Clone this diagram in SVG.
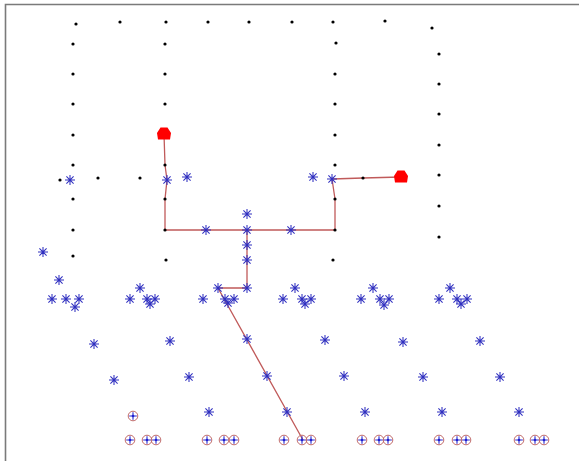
<svg xmlns="http://www.w3.org/2000/svg" xmlns:xlink="http://www.w3.org/1999/xlink" width="579" height="461" viewBox="0 0 579 461">
<style>
.frame{stroke:#7a7a7a;stroke-width:1.6;fill:none}
.route{stroke:#c05a5a;stroke-width:1.3;fill:none;stroke-linejoin:round}
.dot{fill:#000}
.ast{stroke:#3030c0;stroke-width:1.05;fill:none}
.cring{stroke:#c06a6a;stroke-width:1;fill:none}
.cplus{stroke:#2a2ad0;stroke-width:1.1}
.blob{fill:#ff0000}
</style>
<defs>
<g id="d"><circle r="1.6" class="dot"/></g>
<g id="a" class="ast"><path d="M-5 0H5M0-5V5M-3.6-3.6L3.6 3.6M-3.6 3.6L3.6-3.6"/></g>
<g id="c"><circle r="4.8" class="cring"/><path class="cplus" d="M-3.8 0H3.8M0-3.8V3.8"/><circle r="1.3" fill="#2020d0"/></g>
<g id="b"><polygon class="blob" points="-3.5,-6.5 3.5,-6.5 7,-1 6,5.5 -6,5.5 -7,-1"/></g>
</defs>
<g id="frame"><path class="frame" d="M5.5 461V4.5H579"/></g>
<g id="connectors">
<polyline class="route" points="164,134 165,165 167,180 165,199 165,230 335,230 335,199 332,179 363,178 401,177"/>
<polyline class="route" points="247,230 247,288 218,288 303,440"/>
</g>
<g id="dots">
<use xlink:href="#d" x="76" y="24"/><use xlink:href="#d" x="120" y="22"/><use xlink:href="#d" x="166" y="22"/><use xlink:href="#d" x="208" y="22"/><use xlink:href="#d" x="249" y="22"/><use xlink:href="#d" x="292" y="22"/><use xlink:href="#d" x="333" y="22"/><use xlink:href="#d" x="385" y="21"/><use xlink:href="#d" x="432" y="28"/>
<use xlink:href="#d" x="73" y="44"/><use xlink:href="#d" x="73" y="74"/><use xlink:href="#d" x="73" y="104"/><use xlink:href="#d" x="73" y="135"/><use xlink:href="#d" x="73" y="165"/><use xlink:href="#d" x="60" y="180"/><use xlink:href="#d" x="98" y="178"/><use xlink:href="#d" x="140" y="178"/><use xlink:href="#d" x="73" y="199"/><use xlink:href="#d" x="73" y="230"/><use xlink:href="#d" x="73" y="256"/>
<use xlink:href="#d" x="165" y="44"/><use xlink:href="#d" x="165" y="74"/><use xlink:href="#d" x="165" y="104"/><use xlink:href="#d" x="165" y="165"/><use xlink:href="#d" x="165" y="199"/><use xlink:href="#d" x="165" y="230"/><use xlink:href="#d" x="166" y="260"/>
<use xlink:href="#d" x="336" y="43"/><use xlink:href="#d" x="335" y="74"/><use xlink:href="#d" x="335" y="104"/><use xlink:href="#d" x="335" y="135"/><use xlink:href="#d" x="335" y="165"/><use xlink:href="#d" x="363" y="178"/><use xlink:href="#d" x="335" y="199"/><use xlink:href="#d" x="335" y="230"/><use xlink:href="#d" x="333" y="260"/>
<use xlink:href="#d" x="439" y="54"/><use xlink:href="#d" x="439" y="84"/><use xlink:href="#d" x="439" y="114"/><use xlink:href="#d" x="439" y="145"/><use xlink:href="#d" x="439" y="175"/><use xlink:href="#d" x="439" y="206"/><use xlink:href="#d" x="439" y="237"/>
</g>
<g id="stars">
<use xlink:href="#a" x="70" y="180"/><use xlink:href="#a" x="167" y="180"/><use xlink:href="#a" x="187" y="177"/><use xlink:href="#a" x="313" y="177"/><use xlink:href="#a" x="332" y="179"/>
<use xlink:href="#a" x="206" y="230"/><use xlink:href="#a" x="247" y="214"/><use xlink:href="#a" x="247" y="230"/><use xlink:href="#a" x="291" y="230"/><use xlink:href="#a" x="247" y="245"/><use xlink:href="#a" x="247" y="260"/>
<use xlink:href="#a" x="43" y="252"/><use xlink:href="#a" x="59" y="280"/>
<use xlink:href="#a" x="140" y="288"/><use xlink:href="#a" x="218" y="288"/><use xlink:href="#a" x="247" y="288"/><use xlink:href="#a" x="295" y="288"/><use xlink:href="#a" x="373" y="288"/><use xlink:href="#a" x="450" y="288"/>
<use xlink:href="#a" x="52" y="299"/><use xlink:href="#a" x="66" y="299"/><use xlink:href="#a" x="79" y="299"/><use xlink:href="#a" x="130" y="299"/><use xlink:href="#a" x="147" y="299"/><use xlink:href="#a" x="155" y="299"/><use xlink:href="#a" x="203" y="299"/><use xlink:href="#a" x="225" y="299"/><use xlink:href="#a" x="234" y="299"/><use xlink:href="#a" x="283" y="299"/><use xlink:href="#a" x="302" y="299"/><use xlink:href="#a" x="311" y="299"/><use xlink:href="#a" x="361" y="299"/><use xlink:href="#a" x="380" y="299"/><use xlink:href="#a" x="389" y="299"/><use xlink:href="#a" x="439" y="299"/><use xlink:href="#a" x="457" y="299"/><use xlink:href="#a" x="467" y="299"/>
<use xlink:href="#a" x="75" y="307"/><use xlink:href="#a" x="150" y="304"/><use xlink:href="#a" x="228" y="303"/><use xlink:href="#a" x="305" y="304"/><use xlink:href="#a" x="384" y="305"/><use xlink:href="#a" x="461" y="304"/>
<use xlink:href="#a" x="94" y="344"/><use xlink:href="#a" x="170" y="341"/><use xlink:href="#a" x="247" y="339"/><use xlink:href="#a" x="325" y="340"/><use xlink:href="#a" x="403" y="342"/><use xlink:href="#a" x="480" y="341"/>
<use xlink:href="#a" x="114" y="380"/><use xlink:href="#a" x="189" y="377"/><use xlink:href="#a" x="267" y="376"/><use xlink:href="#a" x="344" y="376"/><use xlink:href="#a" x="423" y="377"/><use xlink:href="#a" x="500" y="377"/>
<use xlink:href="#a" x="209" y="412"/><use xlink:href="#a" x="287" y="412"/><use xlink:href="#a" x="365" y="412"/><use xlink:href="#a" x="442" y="412"/><use xlink:href="#a" x="519" y="412"/>
</g>
<g id="sinks">
<use xlink:href="#c" x="133" y="416"/>
<use xlink:href="#c" x="130" y="440"/><use xlink:href="#c" x="147" y="440"/><use xlink:href="#c" x="156" y="440"/><use xlink:href="#c" x="207" y="440"/><use xlink:href="#c" x="224" y="440"/><use xlink:href="#c" x="234" y="440"/><use xlink:href="#c" x="284" y="440"/><use xlink:href="#c" x="302" y="440"/><use xlink:href="#c" x="311" y="440"/><use xlink:href="#c" x="362" y="440"/><use xlink:href="#c" x="379" y="440"/><use xlink:href="#c" x="388" y="440"/><use xlink:href="#c" x="439" y="440"/><use xlink:href="#c" x="457" y="440"/><use xlink:href="#c" x="466" y="440"/><use xlink:href="#c" x="519" y="440"/><use xlink:href="#c" x="535" y="440"/><use xlink:href="#c" x="544" y="440"/>
</g>
<g id="source-left"><use xlink:href="#b" x="164" y="134"/></g>
<g id="source-right"><use xlink:href="#b" x="401" y="177"/></g>
</svg>
